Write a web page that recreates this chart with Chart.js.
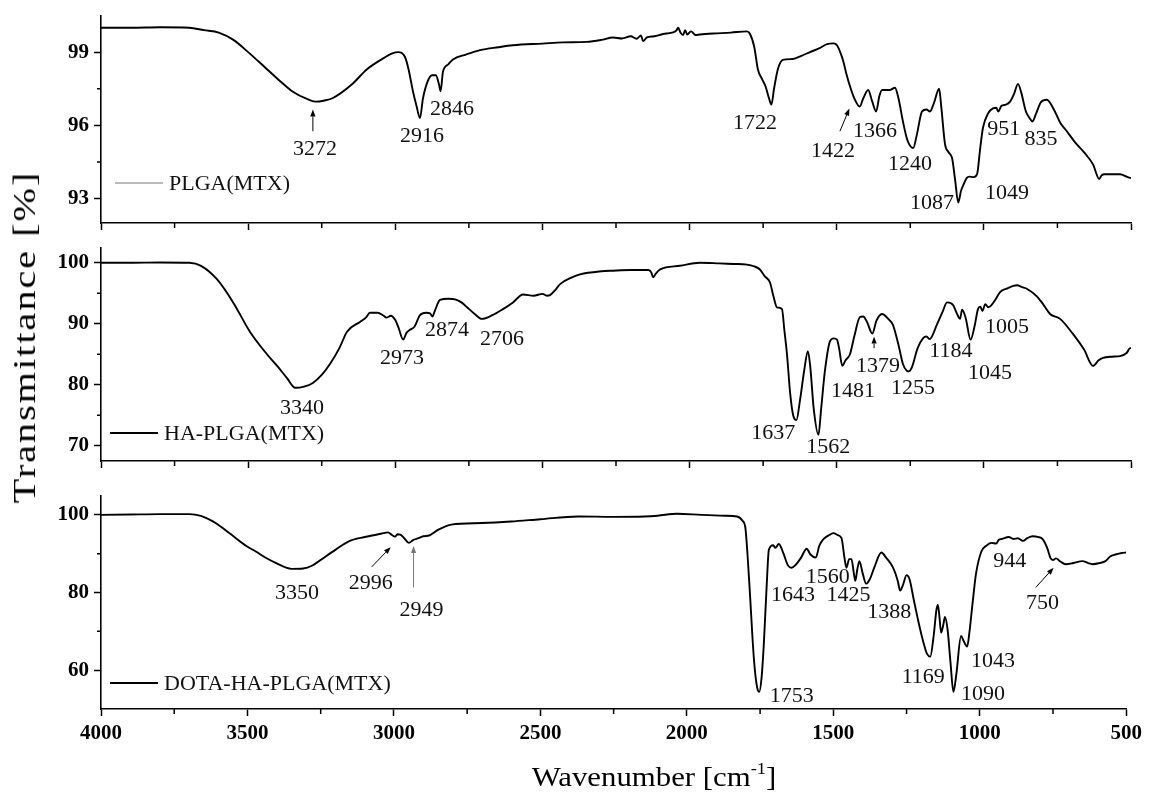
<!DOCTYPE html>
<html>
<head>
<meta charset="utf-8">
<script src="https://cdn.jsdelivr.net/npm/chart.js@4.4.1/dist/chart.umd.min.js"></script>
<style>
  body { margin: 0; background: #fff; }
  #wrap { position: relative; width: 1149px; height: 797px; font-family: "Liberation Serif", "Times New Roman", serif; }
  canvas { position: absolute; left: 0; }
  #c1 { top: 0; }
  #c2 { top: 232px; }
  #c3 { top: 480px; }
  .ytitle { position: absolute; left: 25px; top: 337px; font-size: 31px; letter-spacing: 1.5px; white-space: nowrap;
            transform: translate(-50%, -50%) rotate(-90deg) scaleX(1.3); }
  .xtitle { position: absolute; left: 654px; top: 776px; font-size: 28px; white-space: nowrap;
            transform: translate(-50%, -50%) scaleX(1.1); }
  .xtitle sup { font-size: 0.6em; vertical-align: 0.75em; }
</style>
</head>
<body>
<div id="wrap">
  <canvas id="c1" width="1149" height="240"></canvas>
  <canvas id="c2" width="1149" height="246"></canvas>
  <canvas id="c3" width="1149" height="317"></canvas>
  <div class="ytitle">Transmittance [%]</div>
  <div class="xtitle">Wavenumber [cm<sup>-1</sup>]</div>
</div>
<script>
// FTIR spectra: [wavenumber (cm-1), transmittance (%)]
const plgaSpectrum = [
  [4000,100.0],[3900,100.0],[3800,100.02],[3700,100.0],[3650,99.9],[3600,99.8],[3550,99.5],[3500,99.0],
  [3436,98.3],[3390,97.8],[3348,97.38],[3300,97.08],[3272,96.97],[3240,97.02],[3212,97.12],[3150,97.65],
  [3096,98.3],[3050,98.68],[3010,98.95],[2990,99.0],[2967,98.8],[2955,98.3],[2940,97.4],[2928,96.8],
  [2916,96.3],[2906,97.1],[2890,97.8],[2875,98.05],[2862,98.05],[2852,97.7],[2846,97.4],[2838,98.2],
  [2820,98.5],[2804,98.7],[2760,98.9],[2712,99.08],[2650,99.2],[2600,99.28],[2500,99.35],[2430,99.4],
  [2350,99.42],[2300,99.5],[2260,99.6],[2230,99.56],[2200,99.65],[2180,99.55],[2165,99.68],[2158,99.45],
  [2145,99.6],[2120,99.65],[2090,99.74],[2060,99.8],[2045,99.88],[2039,100.0],[2030,99.78],[2022,99.7],
  [2015,99.9],[2008,99.72],[1995,99.85],[1980,99.7],[1965,99.72],[1920,99.76],[1860,99.8],[1805,99.85],
  [1795,99.75],[1780,99.2],[1768,98.3],[1754,97.9],[1742,97.6],[1730,97.1],[1722,96.85],[1713,97.5],
  [1700,98.3],[1683,98.68],[1649,98.72],[1620,98.85],[1591,99.0],[1560,99.15],[1533,99.33],[1510,99.36],
  [1499,99.28],[1485,98.9],[1477,98.6],[1467,98.1],[1455,97.6],[1440,97.1],[1422,96.77],[1410,97.1],
  [1393,97.45],[1380,97.0],[1366,96.57],[1355,97.2],[1346,97.45],[1320,97.45],[1302,97.54],[1290,97.1],
  [1275,96.16],[1260,95.4],[1240,95.07],[1228,95.6],[1210,96.57],[1195,96.65],[1183,96.57],[1170,96.9],
  [1152,97.5],[1145,96.8],[1132,95.23],[1120,94.9],[1108,94.66],[1098,93.8],[1087,92.84],[1078,93.3],
  [1068,93.6],[1058,93.85],[1049,93.9],[1035,93.88],[1023,94.0],[1013,95.0],[1003,95.9],[985,96.5],
  [969,96.7],[958,96.72],[951,96.57],[940,96.8],[925,96.85],[911,96.97],[897,97.3],[884,97.7],
  [872,97.3],[858,96.6],[845,96.3],[835,96.16],[822,96.5],[806,96.95],[786,97.05],[760,96.6],
  [740,96.1],[718,95.76],[690,95.3],[660,94.9],[629,94.4],[608,93.8],[600,93.95],[590,94.0],
  [570,94.0],[537,94.0],[515,93.9],[503,93.85],[500,93.85]
];

const haPlgaSpectrum = [
  [4000,100.0],[3900,100.0],[3800,100.05],[3700,100.0],[3660,99.5],[3606,97.3],[3551,93.5],[3494,88.7],
  [3436,85.0],[3400,83.0],[3368,81.1],[3340,79.5],[3310,79.7],[3280,80.3],[3250,81.6],[3222,83.4],
  [3190,86.0],[3164,88.7],[3120,90.3],[3100,91.0],[3086,91.8],[3060,91.8],[3042,91.4],[3030,91.0],
  [3015,91.3],[3000,90.6],[2990,89.5],[2973,87.4],[2962,88.5],[2950,89.0],[2935,89.5],[2916,91.4],
  [2895,91.8],[2882,91.7],[2874,91.2],[2865,92.2],[2848,93.9],[2820,94.1],[2797,94.0],[2775,93.5],
  [2756,92.7],[2730,91.6],[2706,90.8],[2670,91.4],[2634,92.4],[2600,93.5],[2566,94.8],[2530,94.6],
  [2500,94.9],[2485,94.6],[2474,94.7],[2455,95.6],[2440,96.5],[2400,97.6],[2372,98.1],[2300,98.6],
  [2260,98.7],[2200,98.8],[2140,98.8],[2130,98.4],[2124,97.6],[2115,98.2],[2100,98.9],[2033,99.5],
  [1965,100.0],[1900,99.9],[1850,99.8],[1805,99.7],[1780,99.4],[1761,98.9],[1745,97.8],[1727,96.8],
  [1715,94.5],[1703,92.7],[1686,92.4],[1678,89.0],[1669,85.0],[1658,78.5],[1648,75.0],[1637,74.2],
  [1625,77.4],[1610,82.5],[1598,85.5],[1590,83.0],[1578,76.0],[1562,71.8],[1553,76.0],[1540,82.3],
  [1523,87.1],[1510,87.6],[1499,87.4],[1492,86.0],[1481,83.1],[1470,84.0],[1455,85.0],[1440,88.0],
  [1421,91.1],[1410,91.2],[1397,90.3],[1379,88.4],[1365,90.5],[1346,91.6],[1325,90.8],[1309,89.8],
  [1290,86.5],[1275,83.4],[1262,82.3],[1255,82.2],[1245,82.8],[1225,86.0],[1207,87.6],[1195,87.9],
  [1184,87.5],[1160,89.8],[1140,92.0],[1125,93.5],[1105,93.1],[1090,91.5],[1081,90.8],[1074,92.3],
  [1062,91.0],[1045,87.4],[1032,89.5],[1020,92.4],[1012,92.8],[1005,92.1],[995,93.2],[985,92.7],
  [975,93.0],[960,94.0],[945,95.2],[920,95.8],[900,96.2],[887,96.3],[870,96.0],[853,95.7],
  [820,94.5],[800,93.3],[775,91.6],[741,90.8],[700,88.5],[660,85.8],[629,83.1],[610,84.0],
  [595,84.4],[565,84.6],[537,84.7],[515,85.2],[503,86.0],[500,86.0]
];

const dotaSpectrum = [
  [4000,100.0],[3900,100.1],[3800,100.2],[3700,100.2],[3674,100.0],[3640,99.2],[3606,97.8],[3560,95.2],
  [3504,92.0],[3470,90.5],[3436,88.9],[3400,87.5],[3368,86.4],[3350,86.1],[3310,86.2],[3280,86.9],
  [3256,88.1],[3200,91.0],[3154,93.2],[3100,94.3],[3042,95.2],[3020,95.5],[3008,94.9],[2996,94.4],
  [2988,95.0],[2978,94.9],[2965,94.0],[2949,92.8],[2935,93.5],[2916,94.0],[2900,94.5],[2880,94.7],
  [2848,96.2],[2804,97.5],[2700,97.9],[2600,98.3],[2500,98.9],[2372,99.6],[2250,99.5],[2145,99.6],
  [2100,99.8],[2033,100.3],[1950,100.0],[1870,99.8],[1829,99.6],[1810,98.5],[1800,96.5],[1788,83.9],
  [1771,62.8],[1760,55.5],[1753,54.4],[1745,58.0],[1737,67.1],[1728,81.0],[1720,91.0],[1705,92.2],
  [1698,91.5],[1686,92.5],[1670,90.0],[1655,87.0],[1643,86.4],[1630,87.0],[1610,89.0],[1591,91.3],
  [1578,89.8],[1560,89.0],[1548,92.0],[1533,93.8],[1510,95.0],[1499,95.3],[1485,94.8],[1472,94.0],
  [1462,89.0],[1455,86.4],[1446,88.6],[1438,88.6],[1430,85.0],[1425,83.0],[1418,86.0],[1411,88.1],
  [1400,85.0],[1388,82.3],[1375,83.5],[1360,86.5],[1336,90.3],[1320,89.0],[1296,86.4],[1280,83.0],
  [1272,80.5],[1262,82.0],[1250,84.5],[1240,83.5],[1225,78.0],[1205,71.0],[1190,66.5],[1180,64.2],
  [1169,63.5],[1158,68.5],[1148,75.5],[1143,76.8],[1138,74.0],[1132,69.7],[1125,71.5],[1119,73.7],
  [1110,70.5],[1100,62.0],[1090,54.4],[1080,59.0],[1064,68.8],[1055,67.5],[1043,66.1],[1035,70.0],
  [1025,77.0],[1013,84.8],[995,90.5],[979,92.0],[960,92.8],[944,92.6],[935,93.6],[925,93.8],
  [901,94.3],[885,93.8],[870,94.0],[853,93.3],[838,94.0],[820,94.5],[800,94.3],[786,93.8],
  [770,91.5],[758,88.8],[750,88.4],[740,88.8],[725,88.0],[707,87.3],[680,87.6],[650,88.1],
  [630,87.6],[616,87.3],[590,87.6],[571,88.1],[555,89.3],[537,89.8],[515,90.2],[500,90.3]
];

// peak labels: band position and where its number is written [wavenumber, %]
const plgaPeaks = [
  { wn: 3272, at: [3273, 95.03] }, { wn: 2916, at: [2909, 95.55] }, { wn: 2846, at: [2807, 96.65] },
  { wn: 1722, at: [1778, 96.08] }, { wn: 1422, at: [1513, 94.95] }, { wn: 1366, at: [1370, 95.76] },
  { wn: 1240, at: [1251, 94.42] }, { wn: 1087, at: [1176, 92.8] }, { wn: 1049, at: [921, 93.24] },
  { wn: 951, at: [932, 95.84] }, { wn: 835, at: [806, 95.43] }
];
const haPlgaPeaks = [
  { wn: 3340, at: [3317, 76.1] }, { wn: 2973, at: [2977, 84.4] }, { wn: 2874, at: [2824, 89.0] },
  { wn: 2706, at: [2637, 87.4] }, { wn: 1637, at: [1716, 72.1] }, { wn: 1562, at: [1529, 69.7] },
  { wn: 1481, at: [1445, 79.0] }, { wn: 1379, at: [1360, 83.1] }, { wn: 1255, at: [1241, 79.5] },
  { wn: 1184, at: [1112, 85.5] }, { wn: 1045, at: [979, 81.9] }, { wn: 1005, at: [921, 89.4] }
];
const dotaPeaks = [
  { wn: 3350, at: [3331, 79.8] }, { wn: 2996, at: [3079, 82.3] }, { wn: 2949, at: [2906, 75.5] },
  { wn: 1753, at: [1642, 53.2] }, { wn: 1643, at: [1638, 79.2] }, { wn: 1560, at: [1519, 83.9] },
  { wn: 1425, at: [1448, 79.2] }, { wn: 1388, at: [1309, 74.9] }, { wn: 1169, at: [1193, 58.2] },
  { wn: 1090, at: [989, 53.9] }, { wn: 1043, at: [955, 62.4] }, { wn: 944, at: [898, 88.1] },
  { wn: 750, at: [786, 77.2] }
];

// pointer arrows: [from wn, from %, to wn, to %, colour]
const plgaArrows = [[3280, 95.76, 3280, 96.65, '#000'], [1489, 95.76, 1457, 96.69, '#000']];
const haPlgaArrows = [[1373, 86.0, 1373, 87.9, '#000']];
const dotaArrows = [[3076, 86.6, 3011, 91.7, '#000'], [2933, 81.3, 2933, 92.0, '#777'], [809, 81.3, 748, 86.4, '#000']];

const xMajor = [4000, 3500, 3000, 2500, 2000, 1500, 1000, 500];
const xMinor = [3750, 3250, 2750, 2250, 1750, 1250, 750];

const serif = '"Liberation Serif", "Times New Roman", serif';

function drawArrow(ctx, x0, y0, x1, y1, color) {
  const ang = Math.atan2(y1 - y0, x1 - x0);
  const len = 7, half = 2.6;
  ctx.strokeStyle = color; ctx.fillStyle = color; ctx.lineWidth = 1;
  ctx.beginPath();
  ctx.moveTo(x0, y0);
  ctx.lineTo(x1 - Math.cos(ang) * len, y1 - Math.sin(ang) * len);
  ctx.stroke();
  ctx.beginPath();
  ctx.moveTo(x1, y1);
  ctx.lineTo(x1 - Math.cos(ang) * len + Math.sin(ang) * half, y1 - Math.sin(ang) * len - Math.cos(ang) * half);
  ctx.lineTo(x1 - Math.cos(ang) * len - Math.sin(ang) * half, y1 - Math.sin(ang) * len + Math.cos(ang) * half);
  ctx.closePath();
  ctx.fill();
}

// minor ticks, peak numbers, arrows and the in-plot legend entry
const panelDecor = {
  id: 'panelDecor',
  afterDraw(chart, args, o) {
    const { ctx, chartArea: a } = chart;
    const x = chart.scales.x, y = chart.scales.y;
    ctx.save();
    ctx.strokeStyle = '#000';
    ctx.lineWidth = 1.5;
    ctx.beginPath();
    xMinor.forEach(v => {
      const px = x.getPixelForValue(v);
      ctx.moveTo(px, a.bottom); ctx.lineTo(px, a.bottom + 5);
    });
    o.minorY.forEach(v => {
      const py = y.getPixelForValue(v);
      ctx.moveTo(a.left, py); ctx.lineTo(a.left - 4, py);
    });
    ctx.stroke();

    ctx.fillStyle = '#111';
    ctx.font = '22px ' + serif;
    ctx.textAlign = 'center';
    ctx.textBaseline = 'middle';
    o.peaks.forEach(p => {
      ctx.fillText(String(p.wn), x.getPixelForValue(p.at[0]), y.getPixelForValue(p.at[1]));
    });

    o.arrows.forEach(([w0, t0, w1, t1, c]) => {
      drawArrow(ctx, x.getPixelForValue(w0), y.getPixelForValue(t0),
                x.getPixelForValue(w1), y.getPixelForValue(t1), c);
    });

    const lg = o.legend;
    const ly = a.bottom - lg.lift;
    ctx.strokeStyle = lg.color;
    ctx.lineWidth = lg.width;
    ctx.beginPath();
    ctx.moveTo(a.left + lg.start, ly);
    ctx.lineTo(a.left + lg.start + 48, ly);
    ctx.stroke();
    ctx.fillStyle = '#111';
    ctx.textAlign = 'left';
    ctx.fillText(lg.text, a.left + lg.start + 54, ly + 1);
    ctx.restore();
  }
};

function makePanel(id, spectrum, yMin, yMax, yMajor, yMinor, peaks, arrows, legend, showX) {
  return new Chart(document.getElementById(id), {
    type: 'line',
    data: {
      datasets: [{
        label: legend.text,
        data: spectrum.map(([w, t]) => ({ x: w, y: t })),
        borderColor: '#000',
        borderWidth: 1.9,
        pointRadius: 0,
        cubicInterpolationMode: 'monotone',
        fill: false
      }]
    },
    options: {
      responsive: false,
      animation: false,
      layout: { padding: { top: 13, right: 18, left: 0, bottom: 0 } },
      plugins: {
        legend: { display: false },
        tooltip: { enabled: false },
        panelDecor: { minorY: yMinor, peaks: peaks, arrows: arrows, legend: legend }
      },
      scales: {
        x: {
          type: 'linear',
          reverse: true,
          min: 500,
          max: 4000,
          afterBuildTicks: s => { s.ticks = xMajor.map(v => ({ value: v })); },
          afterFit: s => { s.height = showX ? 88 : 17; },
          grid: { drawOnChartArea: false, drawTicks: true, tickLength: 7, tickWidth: 1.5, tickColor: '#000' },
          border: { display: true, color: '#000', width: 1.6 },
          ticks: {
            display: showX,
            color: '#000',
            autoSkip: false,
            maxRotation: 0,
            padding: 7,
            callback: v => String(v),
            font: { family: serif, size: 21, weight: 'bold', lineHeight: 1 }
          }
        },
        y: {
          type: 'linear',
          min: yMin,
          max: yMax,
          afterBuildTicks: s => { s.ticks = yMajor.map(v => ({ value: v })); },
          afterFit: s => { s.width = 101; },
          grid: { drawOnChartArea: false, drawTicks: true, tickLength: 7, tickWidth: 1.5, tickColor: '#000' },
          border: { display: true, color: '#000', width: 1.6 },
          ticks: {
            color: '#000',
            padding: 5,
            callback: v => String(v),
            font: { family: serif, size: 21, weight: 'bold', lineHeight: 1 }
          }
        }
      }
    },
    plugins: [panelDecor]
  });
}

makePanel('c1', plgaSpectrum, 92, 100.5, [93, 96, 99], [94.5, 97.5], plgaPeaks, plgaArrows,
  { text: 'PLGA(MTX)', color: '#777', width: 1, start: 14, lift: 40 }, false);
makePanel('c2', haPlgaSpectrum, 67.5, 102.5, [70, 80, 90, 100], [75, 85, 95], haPlgaPeaks, haPlgaArrows,
  { text: 'HA-PLGA(MTX)', color: '#000', width: 2, start: 9, lift: 28 }, false);
makePanel('c3', dotaSpectrum, 50, 105, [60, 80, 100], [70, 90], dotaPeaks, dotaArrows,
  { text: 'DOTA-HA-PLGA(MTX)', color: '#000', width: 2, start: 9, lift: 26 }, true);
</script>
</body>
</html>
